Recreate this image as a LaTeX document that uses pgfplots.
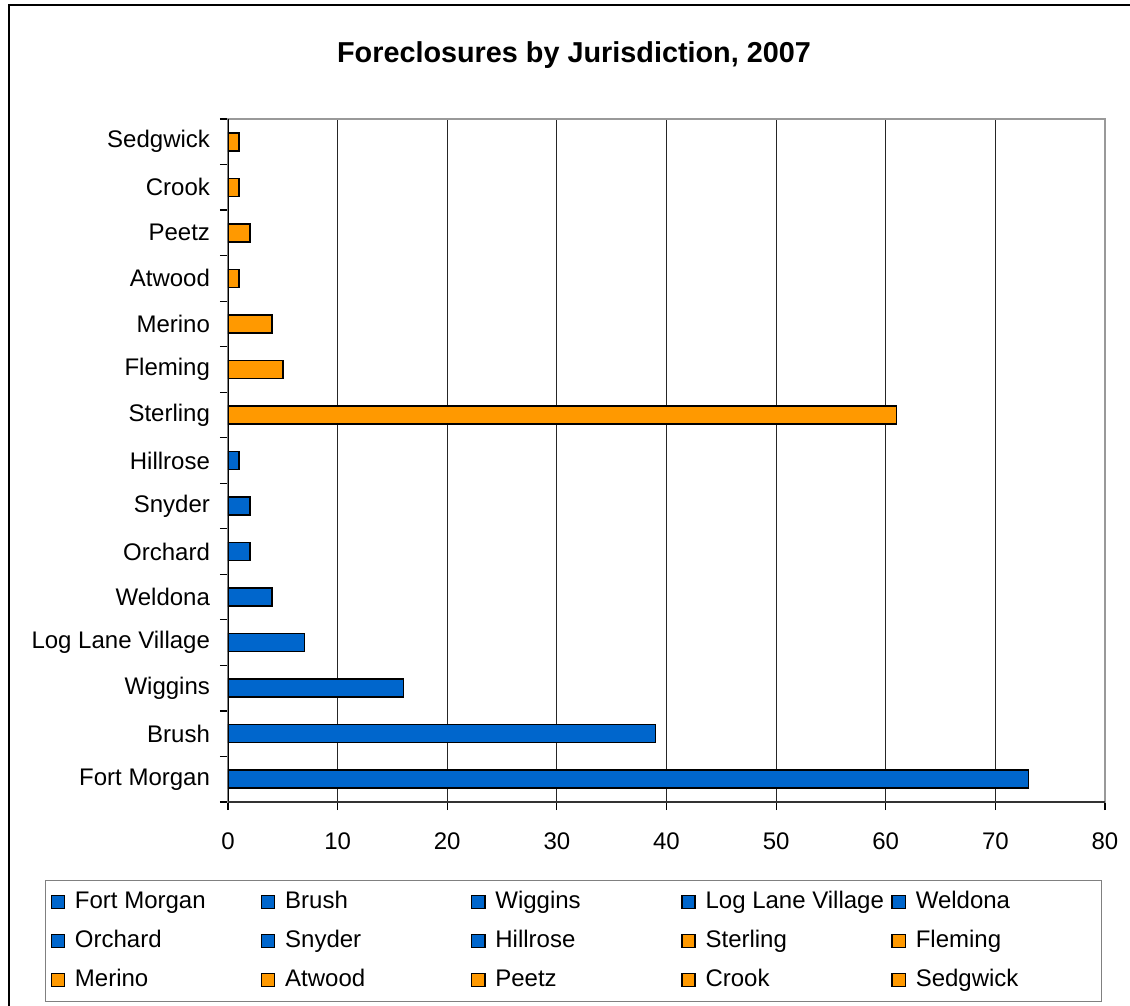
\documentclass[border=0pt]{standalone}
\usepackage{fontspec}
\setmainfont{Liberation Sans}
\usepackage{pgfplots}
\pgfplotsset{compat=1.18}
\definecolor{barblue}{RGB}{0,102,204}
\definecolor{barorange}{RGB}{255,153,0}
\newcommand{\lent}[1]{\makebox[88pt][l]{#1}}

\begin{document}
\begin{tikzpicture}
\useasboundingbox (0pt,0pt) rectangle (565pt,-503pt);
% chart area frame (only left and top edges are inside the picture)
\draw[line width=1pt] (565pt,-2.75pt) -- (4.25pt,-2.75pt) -- (4.25pt,-503pt);
\node[font=\fontsize{14.4}{17}\selectfont\bfseries] at (287pt,-27.5pt)
  {Foreclosures by Jurisdiction, 2007};
\begin{axis}[
  at={(114pt,-401pt)}, anchor=south west,
  scale only axis, width=438.5pt, height=341.5pt,
  xbar, bar width=9pt, bar shift=0pt,
  xmin=0, xmax=80, ymin=-0.5, ymax=14.5,
  xtick={0,10,...,80},
  ytick={-0.5,0.5,...,14.5}, yticklabels={},
  extra y ticks={0,1,...,14},
  extra y tick labels={Fort Morgan,Brush,Wiggins,Log Lane Village,Weldona,Orchard,Snyder,Hillrose,Sterling,Fleming,Merino,Atwood,Peetz,Crook,Sedgwick},
  extra y tick style={major tick length=0pt},
  xtick pos=bottom, ytick pos=left,
  tick align=outside, major tick length=4pt,
  tick style={black, line width=0.6pt},
  xmajorgrids=true,
  major grid style={black!85, line width=0.6pt},
  axis line style={draw=gray!80, line width=0.75pt},
  tick label style={font=\fontsize{12}{14}\selectfont},
  /pgf/number format/assume math mode=true,
  yticklabel style={xshift=-5.5pt},
  xticklabel style={yshift=-8pt},
  every axis plot/.append style={draw=black, line width=0.75pt},
  legend image code/.code={\draw[#1, line width=0.7pt] (0pt,-3.3pt) rectangle (6.6pt,3.3pt);},
  legend columns=5, legend cell align=left,
  legend style={at={(-0.2087,-0.1142)}, anchor=north west,
    draw=gray, line width=0.6pt, inner xsep=2.5pt, inner ysep=2.25pt,
    column sep=2.4pt, row sep=2.5pt,
    font=\fontsize{12}{14}\selectfont,
    nodes={inner sep=2.5pt, text height=9pt, text depth=3pt}},
]
\addplot[fill=barblue] coordinates {(73,0)};
\addplot[fill=barblue] coordinates {(39,1)};
\addplot[fill=barblue] coordinates {(16,2)};
\addplot[fill=barblue] coordinates {(7,3)};
\addplot[fill=barblue] coordinates {(4,4)};
\addplot[fill=barblue] coordinates {(2,5)};
\addplot[fill=barblue] coordinates {(2,6)};
\addplot[fill=barblue] coordinates {(1,7)};
\addplot[fill=barorange] coordinates {(61,8)};
\addplot[fill=barorange] coordinates {(5,9)};
\addplot[fill=barorange] coordinates {(4,10)};
\addplot[fill=barorange] coordinates {(1,11)};
\addplot[fill=barorange] coordinates {(2,12)};
\addplot[fill=barorange] coordinates {(1,13)};
\addplot[fill=barorange] coordinates {(1,14)};
\legend{\lent{Fort Morgan},\lent{Brush},\lent{Wiggins},\lent{Log Lane Village},\lent{Weldona},
  \lent{Orchard},\lent{Snyder},\lent{Hillrose},\lent{Sterling},\lent{Fleming},
  \lent{Merino},\lent{Atwood},\lent{Peetz},\lent{Crook},\lent{Sedgwick}}
\draw[black, line width=0.75pt] (rel axis cs:0,0) -- (rel axis cs:0,1);
\draw[black!80, line width=0.75pt] (rel axis cs:0,0) -- (rel axis cs:1,0);
\end{axis}
\end{tikzpicture}
\end{document}
